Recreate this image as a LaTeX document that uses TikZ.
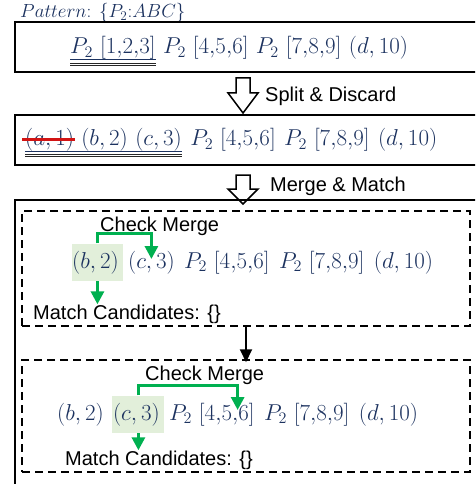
\RequirePackage{fix-cm}
\documentclass[tikz,border=0pt]{standalone}
\usepackage{fontspec}
\setsansfont{Liberation Sans}
\usetikzlibrary{arrows.meta,backgrounds,calc,fit}
\definecolor{mblue}{RGB}{28,50,95}
\definecolor{mgreen}{RGB}{0,176,80}
\definecolor{hlgreen}{RGB}{226,239,218}
\definecolor{sred}{RGB}{210,20,20}
\begin{document}
\begin{tikzpicture}[x=1pt,y=-1pt,
  tok/.style={inner sep=0pt, anchor=base west, text=mblue, font=\fontsize{23}{27}\selectfont},
  lbl/.style={inner sep=0pt, anchor=base west, font=\sffamily\fontsize{20}{24}\selectfont},
  solidbox/.style={draw, line width=2pt},
  dashbox/.style={draw, line width=1.5pt, dash pattern=on 8pt off 5pt, inner sep=0pt},
  garrow/.style={draw=mgreen, line width=3pt, -{Triangle[width=13pt,length=13pt]}},
  hollow/.style={draw=black, line width=1.5pt, fill=white, line join=miter},
  hl/.style={fill=hlgreen, inner xsep=2.5pt, inner ysep=7pt},
  uline/.style={draw=mblue, line width=1pt},
  dline/.style={draw=black!85, line width=0.8pt},
  blk/.style={line width=2pt, -{Triangle[width=12pt,length=13pt]}}
]
\useasboundingbox (0,0) rectangle (475,484);
\clip (0,0) rectangle (475,484);

% hollow arrows (drawn first, boxes over them)
\draw[hollow] (236,78) -- (250,78) -- (250,93) -- (258,93) -- (243,113) -- (228,93) -- (236,93) -- cycle;
\draw[hollow] (236,175) -- (250,175) -- (250,189) -- (258,189) -- (243,204) -- (228,189) -- (236,189) -- cycle;
\node[lbl] (split) at (265,101.5) {Split \& Discard};
\node[lbl] (merge) at (270,191.5) {Merge \& Match};

% pattern label
\node[tok, font=\fontsize{19}{24}\selectfont] (pat) at (20,18) {$Pattern$: $\{P_2{:}ABC\}$};

% solid boxes
\draw[solidbox] (15,22) rectangle (495,72);
\draw[solidbox] (15,115) rectangle (495,165);
\draw[solidbox] (15,200) rectangle (495,500);

% line 1
\node[tok] (l1a) at (70,54) {$P_2\ [1{,}2{,}3]$};
\node[tok] (l1b) at ([xshift=7pt]l1a.base east) {$P_2\ [4{,}5{,}6]$};
\node[tok] (l1c) at ([xshift=7pt]l1b.base east) {$P_2\ [7{,}8{,}9]$};
\node[tok] (l1d) at ([xshift=7pt]l1c.base east) {$(d,10)$};
\draw[uline] ($(l1a.base west)+(0,6)$) -- ($(l1a.base east)+(0,6)$);
\draw[dline] ($(l1a.base west)+(0,9)$) -- ($(l1a.base east)+(0,9)$);
\draw[dline] ($(l1a.base west)+(0,11.5)$) -- ($(l1a.base east)+(0,11.5)$);

% line 2
\node[tok] (l2a) at (25,146) {$(a,1)$};
\node[tok] (l2b) at ([xshift=7pt]l2a.base east) {$(b,2)$};
\node[tok] (l2c) at ([xshift=7pt]l2b.base east) {$(c,3)$};
\node[tok] (l2d) at ([xshift=8pt]l2c.base east) {$P_2\ [4{,}5{,}6]$};
\node[tok] (l2e) at ([xshift=8pt]l2d.base east) {$P_2\ [7{,}8{,}9]$};
\node[tok] (l2f) at ([xshift=8pt]l2e.base east) {$(d,10)$};
\draw[uline] ($(l2a.base west)+(0,5)$) -- ($(l2c.base east)+(0,5)$);
\draw[dline] ($(l2a.base west)+(0,8)$) -- ($(l2c.base east)+(0,8)$);
\draw[dline] ($(l2a.base west)+(0,10.5)$) -- ($(l2c.base east)+(0,10.5)$);
\draw[sred, line width=3pt] ($(l2a.base west)+(-3,-7)$) -- ($(l2a.base east)+(1,-7)$);

% dashed box 1
\node[dashbox, minimum width=448pt, minimum height=115pt] (db1) at (246,268.5) {};
\node[tok] (l3a) at (72,268) {$(b,2)$};
\node[tok] (l3b) at ([xshift=9pt]l3a.base east) {$(c,3)$};
\node[tok] (l3c) at ([xshift=9pt]l3b.base east) {$P_2\ [4{,}5{,}6]$};
\node[tok] (l3d) at ([xshift=9pt]l3c.base east) {$P_2\ [7{,}8{,}9]$};
\node[tok] (l3e) at ([xshift=9pt]l3d.base east) {$(d,10)$};
\begin{scope}[on background layer]
\node[hl, fit=(l3a), xshift=2pt] (h3) {};
\end{scope}
\node[lbl] (cm3) at (100,231) {Check Merge};
\node[lbl] (mc3) at (33,319) {Match Candidates: \{\}};
\coordinate (t3) at ($(l3b.base)+(0,-9)$);
\draw[garrow] (h3.north) -- ++(0,-10) -| (t3);
\draw[garrow] (h3.south) -- (h3.south |- mc3.north);

% dashed box 2
\node[dashbox, minimum width=448pt, minimum height=112pt] (db2) at (246,416) {};
\node[tok] (l4a) at (57,420) {$(b,2)$};
\node[tok] (l4b) at ([xshift=9pt]l4a.base east) {$(c,3)$};
\node[tok] (l4c) at ([xshift=9pt]l4b.base east) {$P_2\ [4{,}5{,}6]$};
\node[tok] (l4d) at ([xshift=9pt]l4c.base east) {$P_2\ [7{,}8{,}9]$};
\node[tok] (l4e) at ([xshift=9pt]l4d.base east) {$(d,10)$};
\begin{scope}[on background layer]
\node[hl, fit=(l4b), xshift=2pt] (h4) {};
\end{scope}
\node[lbl] (cm4) at (145,380) {Check Merge};
\node[lbl] (mc4) at (65,465) {Match Candidates: \{\}};
\coordinate (t4) at ($(l4c.base west)!0.8!(l4c.base east)+(0,-10)$);
\draw[garrow] (h4.north) -- ++(0,-10) -| (t4);
\draw[garrow] (h4.south) -- (h4.south |- mc4.north);

% black arrow between stages
\draw[blk, shorten >=-3pt] (db1.south) -- (db2.north);
\end{tikzpicture}
\end{document}
